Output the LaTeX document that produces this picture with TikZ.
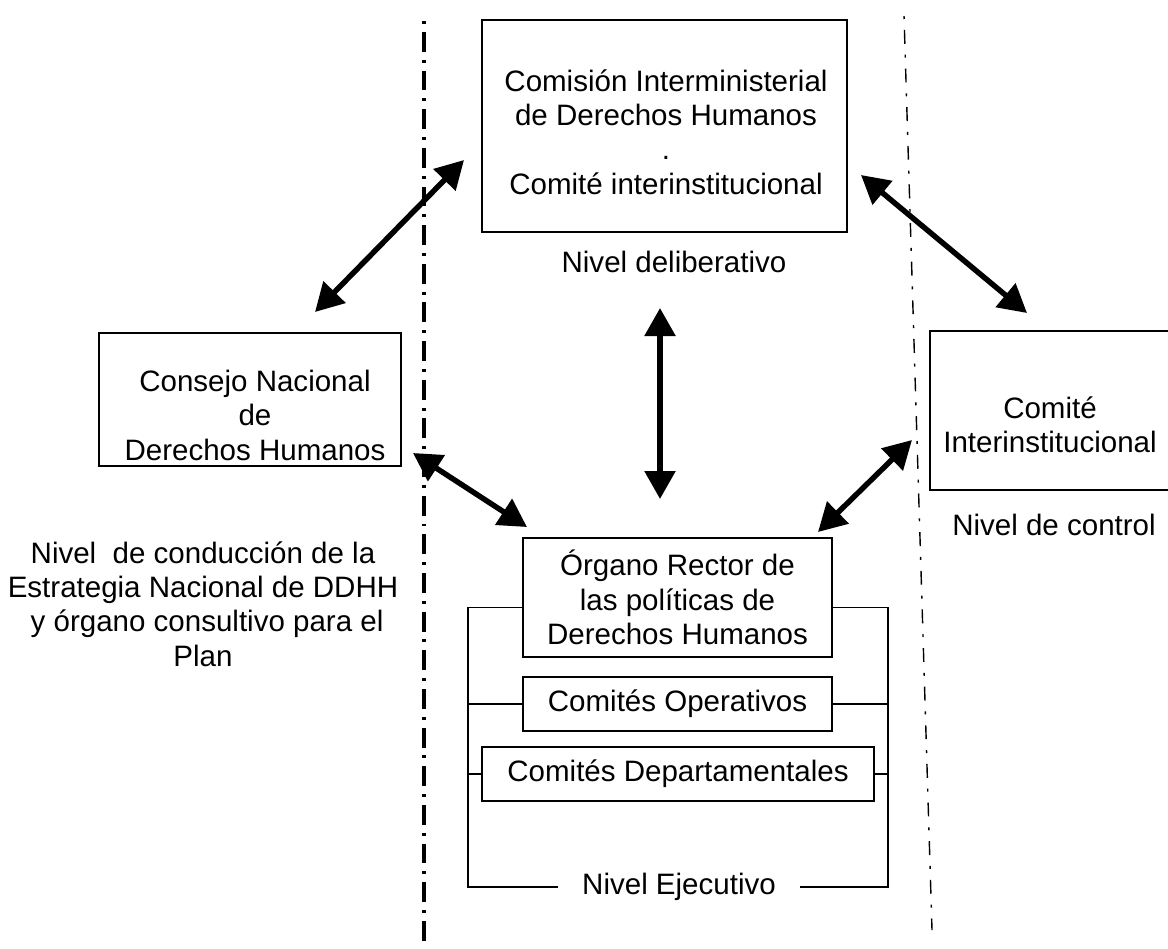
\documentclass[tikz,border=0pt]{standalone}
\usepackage{fontspec}
\setmainfont{Liberation Sans}
\usetikzlibrary{arrows.meta,calc}

\begin{document}
\begin{tikzpicture}[x=0.02cm,y=-0.02cm,
    box/.style={draw,line width=1pt,inner sep=0pt,align=center,font=\fontsize{16.8}{19.6}\selectfont},
    txt/.style={align=center,font=\fontsize{16.8}{19.6}\selectfont},
    brk/.style={line width=0.8pt},
    arr/.style={line width=3.1pt,{Triangle[length=0.56cm,width=0.6cm]}-{Triangle[length=0.56cm,width=0.6cm]}},
    level/.style={line width=0.8pt,dash pattern=on 1.7pt off 6.2pt on 7.9pt off 6.2pt}]
    \clip (0,0) rectangle (1168,948);

    % level separators
    \draw[level,line width=1.9pt,dash pattern=on 1.7pt off 4.5pt on 11.3pt off 4.5pt] (424,21) -- (424,948);
    \draw[level] (904,16) -- (932,930);

    % deliberative level
    \node[box,minimum width=7.3cm,minimum height=4.24cm] (cim) at (664.5,126) {};
    \node[txt] (cimt) at (666,132) {Comisión Interministerial\\de Derechos Humanos\\.\\Comité interinstitucional};
    \node[txt] (delib) at (674,262) {Nivel deliberativo};

    % national council
    \node[box,minimum width=6.04cm,minimum height=2.66cm] (cnd) at (250,399.5) {};
    \node[txt] (cndt) at (255,415) {Consejo Nacional\\de\\Derechos Humanos};
    \node[txt] (cond) at (203,604) {Nivel\ \ de conducción de la\\Estrategia Nacional de DDHH\\\ y órgano consultivo para el\\Plan};

    % control level
    \node[box,minimum width=5cm,minimum height=3.18cm] (cte) at (1055,410.5) {};
    \node[txt] (ctet) at (1050,425) {Comité\\Interinstitucional};
    \node[txt] (ctrl) at (1054,525) {Nivel de control};

    % executive level
    \node[box,minimum width=6.18cm,minimum height=2.38cm] (org) at (677.5,597.5) {Órgano Rector de\\las políticas de\\Derechos Humanos};
    \node[box,minimum width=6.18cm,minimum height=1.08cm] (cop) at (677.5,704) {Comités Operativos};
    \node[box,minimum width=7.84cm,minimum height=1.08cm] (cdp) at (678,774) {Comités Departamentales};
    \node[txt,inner xsep=0.48cm] (ejec) at (679,887) {Nivel Ejecutivo};

    \coordinate (ebl) at (468,887);
    \coordinate (ebr) at (888,887);
    \draw[brk] ([yshift=-0.2cm]org.west) -| (ebl) -- (ejec.west);
    \draw[brk] ([yshift=-0.2cm]org.east) -| (ebr) -- (ejec.east);
    \draw[brk] (cop.west) -- (cop.west -| ebl);
    \draw[brk] (cop.east) -- (cop.east -| ebr);
    \draw[brk] (cdp.west) -- (cdp.west -| ebl);
    \draw[brk] (cdp.east) -- (cdp.east -| ebr);

    % arrow ends
    \coordinate (cnd-n) at (315,312);
    \coordinate (cim-w) at (464,160);
    \coordinate (cim-e) at (861,175);
    \coordinate (cte-n) at (1027,313);
    \coordinate (cim-s) at (660,308);
    \coordinate (org-n) at (660,499);
    \coordinate (cnd-e) at (413,453);
    \coordinate (org-w) at (527,527);
    \coordinate (org-e) at (818,532);
    \coordinate (cte-w) at (912,440);

    \draw[arr] (cnd-n) -- (cim-w);
    \draw[arr] (cim-e) -- (cte-n);
    \draw[arr] (cim-s) -- (org-n);
    \draw[arr] (cnd-e) -- (org-w);
    \draw[arr] (org-e) -- (cte-w);
\end{tikzpicture}
\end{document}
